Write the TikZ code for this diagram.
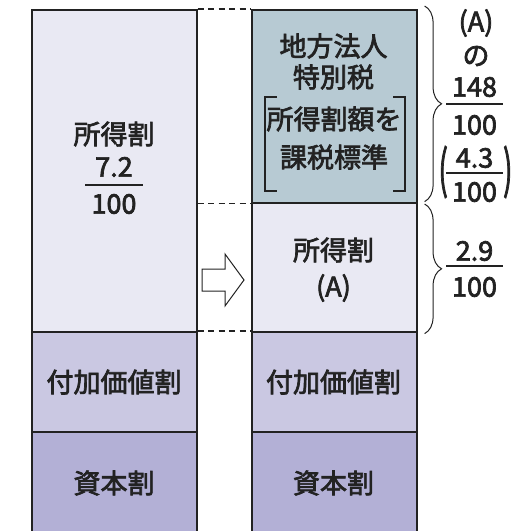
\documentclass[tikz,border=0pt]{standalone}
\usepackage{fontspec}
\setmainfont{Noto Sans CJK JP}[FakeBold=2.6]
\usetikzlibrary{decorations.pathreplacing}
\definecolor{taxInk}{HTML}{222222}
\definecolor{taxLight}{HTML}{E9E9F3}
\definecolor{taxSpecial}{HTML}{B7CAD3}
\definecolor{taxValue}{HTML}{CAC8E2}
\definecolor{taxCapital}{HTML}{B3B0D6}

\begin{document}
\begin{tikzpicture}[x=1pt, y=-1pt,
    colbox/.style={draw=taxInk, line width=1.6pt, minimum width=165pt, anchor=north west, inner sep=0pt},
    boxtext/.style={text=taxInk, inner sep=0pt, font=\fontsize{27}{30}\selectfont},
    fracbar/.style={fill=taxInk, inner sep=0pt, minimum height=1.8pt},
    gapdash/.style={draw=taxInk, line width=1.6pt, dash pattern=on 6pt off 4.5pt},
    bracebar/.style={draw=taxInk, line width=1pt, decorate, decoration={brace, amplitude=17pt}},
    bracketline/.style={draw=taxInk, line width=1.6pt},
    blockarrow/.style={draw=taxInk, line width=1pt, fill=white, line join=miter}]
  \useasboundingbox (0,0) rectangle (513,531);

  % left column: before
  \node[colbox, fill=taxLight, minimum height=322pt] (incomeL) at (31,9) {};
  \node[colbox, fill=taxValue, minimum height=100pt] (valueL) at (31,331) {};
  \node[colbox, fill=taxCapital, minimum height=114pt] (capitalL) at (31,431) {};

  % right column: after
  \node[colbox, fill=taxSpecial, minimum height=193pt] (specialR) at (251,9) {};
  \node[colbox, fill=taxLight, minimum height=129pt] (incomeR) at (251,202) {};
  \node[colbox, fill=taxValue, minimum height=100pt] (valueR) at (251,331) {};
  \node[colbox, fill=taxCapital, minimum height=114pt] (capitalR) at (251,431) {};

  % dashed guides between the columns
  \draw[gapdash] (incomeL.north east) -- (specialR.north west);
  \draw[gapdash] (specialR.south west -| incomeL.east) -- (specialR.south west);
  \draw[gapdash] (valueL.north east) -- (valueR.north west);

  % left labels
  \node[boxtext] (incomeLabelL) at (114,134) {所得割};
  \node[boxtext] (rateNumL) at (114,167) {7.2};
  \node[fracbar, minimum width=58pt] (rateBarL) at (114,185) {};
  \node[boxtext] (rateDenL) at (114,204) {100};
  \node[boxtext] (valueLabelL) at (114,382) {付加価値割};
  \node[boxtext] (capitalLabelL) at (114,483) {資本割};

  % right labels
  \node[boxtext] (specialLine1) at (333.5,46) {地方法人};
  \node[boxtext] (specialLine2) at (333.5,77) {特別税};
  \node[boxtext] (baseLine1) at (334,119) {所得割額を};
  \node[boxtext] (baseLine2) at (334,157) {課税標準};
  \draw[bracketline] (277,97) -- (265,97) -- (265,191) -- (277,191);
  \draw[bracketline] (393,97) -- (405,97) -- (405,191) -- (393,191);
  \node[boxtext] (incomeLabelR) at (333.5,250) {所得割};
  \node[boxtext] (incomeTagR) at (333.5,288) {(A)};
  \node[boxtext] (valueLabelR) at (333.5,382) {付加価値割};
  \node[boxtext] (capitalLabelR) at (333.5,483) {資本割};

  % shift arrow
  \draw[blockarrow] (202,269) -- (225,269) -- (225,254) -- (244,280) -- (225,306) -- (225,291) -- (202,291) -- cycle;

  % braces and rates
  \draw[bracebar] ([xshift=7pt, yshift=3pt]specialR.north east) -- ([xshift=7pt, yshift=2pt]specialR.south east);
  \draw[bracebar] ([xshift=7pt, yshift=-2pt]incomeR.north east) -- ([xshift=7pt, yshift=-1pt]incomeR.south east);

  \node[boxtext] (specialTag) at (476,23) {(A)};
  \node[boxtext] (specialNo) at (476,56) {の};
  \node[boxtext] (specialNum) at (474.5,87) {148};
  \node[fracbar, minimum width=57pt] (specialBar) at (474.5,104) {};
  \node[boxtext] (specialDen) at (474.5,125) {100};
  \node[boxtext] (shareNum) at (474.5,158) {4.3};
  \node[fracbar, minimum width=57pt] (shareBar) at (474.5,173) {};
  \node[boxtext] (shareDen) at (474.5,192) {100};
  \node[boxtext, anchor=east] (parenOpen) at (448,172) {\scalebox{1}[1.9]{(}};
  \node[boxtext, anchor=west] (parenClose) at (503,172) {\scalebox{1}[1.9]{)}};

  \node[boxtext] (incomeNum) at (474.5,251) {2.9};
  \node[fracbar, minimum width=57pt] (incomeBar) at (474.5,266) {};
  \node[boxtext] (incomeDen) at (474.5,287) {100};
\end{tikzpicture}
\end{document}
